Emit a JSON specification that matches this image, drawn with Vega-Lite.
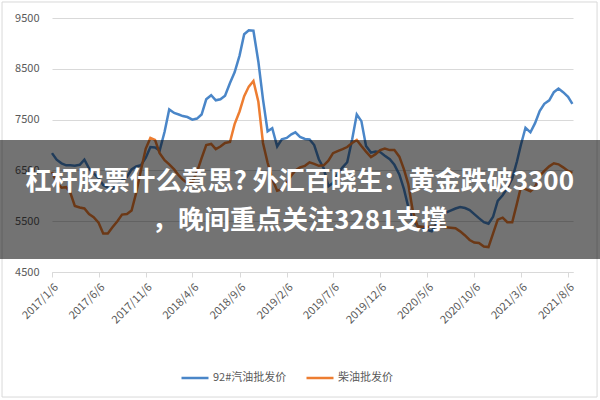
{
  "$schema": "https://vega.github.io/schema/vega-lite/v6.json",
  "width": 521,
  "height": 254,
  "autosize": "none",
  "padding": {"left": 52, "top": 18, "right": 27, "bottom": 128},
  "background": "white",
  "config": {"view": {"stroke": null}, "font": "Noto Sans CJK SC"},
  "datasets": {
    "prices": [
      {"date": "2017/01/06", "92#汽油批发价": 6840, "柴油批发价": 6470},
      {"date": "2017/01/21", "92#汽油批发价": 6710, "柴油批发价": 6260},
      {"date": "2017/02/06", "92#汽油批发价": 6640, "柴油批发价": 6160},
      {"date": "2017/02/21", "92#汽油批发价": 6600, "柴油批发价": 6170},
      {"date": "2017/03/06", "92#汽油批发价": 6600, "柴油批发价": 6070},
      {"date": "2017/03/21", "92#汽油批发价": 6590, "柴油批发价": 5800},
      {"date": "2017/04/06", "92#汽油批发价": 6610, "柴油批发价": 5770},
      {"date": "2017/04/21", "92#汽油批发价": 6710, "柴油批发价": 5750},
      {"date": "2017/05/06", "92#汽油批发价": 6540, "柴油批发价": 5640},
      {"date": "2017/05/21", "92#汽油批发价": 6440, "柴油批发价": 5580},
      {"date": "2017/06/06", "92#汽油批发价": 6350, "柴油批发价": 5470},
      {"date": "2017/06/21", "92#汽油批发价": 6210, "柴油批发价": 5260},
      {"date": "2017/07/06", "92#汽油批发价": 6160, "柴油批发价": 5260},
      {"date": "2017/07/21", "92#汽油批发价": 6140, "柴油批发价": 5380},
      {"date": "2017/08/06", "92#汽油批发价": 6220, "柴油批发价": 5500},
      {"date": "2017/08/21", "92#汽油批发价": 6300, "柴油批发价": 5630},
      {"date": "2017/09/06", "92#汽油批发价": 6370, "柴油批发价": 5640},
      {"date": "2017/09/21", "92#汽油批发价": 6520, "柴油批发价": 5710},
      {"date": "2017/10/06", "92#汽油批发价": 6580, "柴油批发价": 6060},
      {"date": "2017/10/21", "92#汽油批发价": 6600, "柴油批发价": 6500},
      {"date": "2017/11/06", "92#汽油批发价": 6750, "柴油批发价": 6930},
      {"date": "2017/11/21", "92#汽油批发价": 6960, "柴油批发价": 7140},
      {"date": "2017/12/06", "92#汽油批发价": 6950, "柴油批发价": 7100},
      {"date": "2017/12/21", "92#汽油批发价": 6890, "柴油批发价": 6840},
      {"date": "2018/01/06", "92#汽油批发价": 7260, "柴油批发价": 6700},
      {"date": "2018/01/21", "92#汽油批发价": 7700, "柴油批发价": 6620},
      {"date": "2018/02/06", "92#汽油批发价": 7630, "柴油批发价": 6520},
      {"date": "2018/02/21", "92#汽油批发价": 7600, "柴油批发价": 6400},
      {"date": "2018/03/06", "92#汽油批发价": 7570, "柴油批发价": 6320},
      {"date": "2018/03/21", "92#汽油批发价": 7550, "柴油批发价": 6250},
      {"date": "2018/04/06", "92#汽油批发价": 7500, "柴油批发价": 6270},
      {"date": "2018/04/21", "92#汽油批发价": 7520, "柴油批发价": 6470},
      {"date": "2018/05/06", "92#汽油批发价": 7600, "柴油批发价": 6740},
      {"date": "2018/05/21", "92#汽油批发价": 7900, "柴油批发价": 7000},
      {"date": "2018/06/06", "92#汽油批发价": 7980, "柴油批发价": 7020},
      {"date": "2018/06/21", "92#汽油批发价": 7880, "柴油批发价": 6920},
      {"date": "2018/07/06", "92#汽油批发价": 7900, "柴油批发价": 6970},
      {"date": "2018/07/21", "92#汽油批发价": 7970, "柴油批发价": 7040},
      {"date": "2018/08/06", "92#汽油批发价": 8220, "柴油批发价": 7060},
      {"date": "2018/08/21", "92#汽油批发价": 8430, "柴油批发价": 7410},
      {"date": "2018/09/06", "92#汽油批发价": 8760, "柴油批发价": 7660},
      {"date": "2018/09/21", "92#汽油批发价": 9180, "柴油批发价": 7960},
      {"date": "2018/10/06", "92#汽油批发价": 9260, "柴油批发价": 8150},
      {"date": "2018/10/21", "92#汽油批发价": 9250, "柴油批发价": 8260},
      {"date": "2018/11/06", "92#汽油批发价": 8640, "柴油批发价": 7850},
      {"date": "2018/11/21", "92#汽油批发价": 7900, "柴油批发价": 7040},
      {"date": "2018/12/06", "92#汽油批发价": 7270, "柴油批发价": 6650},
      {"date": "2018/12/21", "92#汽油批发价": 7330, "柴油批发价": 6330},
      {"date": "2019/01/06", "92#汽油批发价": 6970, "柴油批发价": 6100},
      {"date": "2019/01/21", "92#汽油批发价": 7110, "柴油批发价": 6130},
      {"date": "2019/02/06", "92#汽油批发价": 7140, "柴油批发价": 6260},
      {"date": "2019/02/21", "92#汽油批发价": 7210, "柴油批发价": 6400},
      {"date": "2019/03/06", "92#汽油批发价": 7250, "柴油批发价": 6500},
      {"date": "2019/03/21", "92#汽油批发价": 7160, "柴油批发价": 6560},
      {"date": "2019/04/06", "92#汽油批发价": 7120, "柴油批发价": 6590},
      {"date": "2019/04/21", "92#汽油批发价": 7110, "柴油批发价": 6660},
      {"date": "2019/05/06", "92#汽油批发价": 7000, "柴油批发价": 6630},
      {"date": "2019/05/21", "92#汽油批发价": 6720, "柴油批发价": 6590},
      {"date": "2019/06/06", "92#汽油批发价": 6540, "柴油批发价": 6600},
      {"date": "2019/06/21", "92#汽油批发价": 6190, "柴油批发价": 6690},
      {"date": "2019/07/06", "92#汽油批发价": 6250, "柴油批发价": 6840},
      {"date": "2019/07/21", "92#汽油批发价": 6430, "柴油批发价": 6880},
      {"date": "2019/08/06", "92#汽油批发价": 6560, "柴油批发价": 6920},
      {"date": "2019/08/21", "92#汽油批发价": 6660, "柴油批发价": 6960},
      {"date": "2019/09/06", "92#汽油批发价": 7110, "柴油批发价": 7040},
      {"date": "2019/09/21", "92#汽油批发价": 7600, "柴油批发价": 7100},
      {"date": "2019/10/06", "92#汽油批发价": 7470, "柴油批发价": 6980},
      {"date": "2019/10/21", "92#汽油批发价": 6980, "柴油批发价": 6870},
      {"date": "2019/11/06", "92#汽油批发价": 6850, "柴油批发价": 6760},
      {"date": "2019/11/21", "92#汽油批发价": 6870, "柴油批发价": 6820},
      {"date": "2019/12/06", "92#汽油批发价": 6860, "柴油批发价": 6900},
      {"date": "2019/12/21", "92#汽油批发价": 6790, "柴油批发价": 6930},
      {"date": "2020/01/06", "92#汽油批发价": 6720, "柴油批发价": 6900},
      {"date": "2020/01/21", "92#汽油批发价": 6610, "柴油批发价": 6900},
      {"date": "2020/02/06", "92#汽油批发价": 6420, "柴油批发价": 6770},
      {"date": "2020/02/21", "92#汽油批发价": 6130, "柴油批发价": 6520},
      {"date": "2020/03/06", "92#汽油批发价": 5780, "柴油批发价": 6230},
      {"date": "2020/03/21", "92#汽油批发价": 5510, "柴油批发价": 5690},
      {"date": "2020/04/06", "92#汽油批发价": 5400, "柴油批发价": 5390},
      {"date": "2020/04/21", "92#汽油批发价": 5380, "柴油批发价": 5390},
      {"date": "2020/05/06", "92#汽油批发价": 5330, "柴油批发价": 5390},
      {"date": "2020/05/21", "92#汽油批发价": 5300, "柴油批发价": 5390},
      {"date": "2020/06/06", "92#汽油批发价": 5460, "柴油批发价": 5390},
      {"date": "2020/06/21", "92#汽油批发价": 5600, "柴油批发价": 5390},
      {"date": "2020/07/06", "92#汽油批发价": 5670, "柴油批发价": 5380},
      {"date": "2020/07/21", "92#汽油批发价": 5710, "柴油批发价": 5370},
      {"date": "2020/08/06", "92#汽油批发价": 5750, "柴油批发价": 5360},
      {"date": "2020/08/21", "92#汽油批发价": 5780, "柴油批发价": 5300},
      {"date": "2020/09/06", "92#汽油批发价": 5760, "柴油批发价": 5220},
      {"date": "2020/09/21", "92#汽油批发价": 5720, "柴油批发价": 5130},
      {"date": "2020/10/06", "92#汽油批发价": 5640, "柴油批发价": 5080},
      {"date": "2020/10/21", "92#汽油批发价": 5560, "柴油批发价": 5070},
      {"date": "2020/11/06", "92#汽油批发价": 5480, "柴油批发价": 5000},
      {"date": "2020/11/21", "92#汽油批发价": 5450, "柴油批发价": 4990},
      {"date": "2020/12/06", "92#汽油批发价": 5590, "柴油批发价": 5260},
      {"date": "2020/12/21", "92#汽油批发价": 5900, "柴油批发价": 5530},
      {"date": "2021/01/06", "92#汽油批发价": 6010, "柴油批发价": 5570},
      {"date": "2021/01/21", "92#汽油批发价": 6150, "柴油批发价": 5480},
      {"date": "2021/02/06", "92#汽油批发价": 6340, "柴油批发价": 5480},
      {"date": "2021/02/21", "92#汽油批发价": 6670, "柴油批发价": 5840},
      {"date": "2021/03/06", "92#汽油批发价": 7000, "柴油批发价": 6170},
      {"date": "2021/03/21", "92#汽油批发价": 7340, "柴油批发价": 6130},
      {"date": "2021/04/06", "92#汽油批发价": 7250, "柴油批发价": 6090},
      {"date": "2021/04/21", "92#汽油批发价": 7430, "柴油批发价": 6170},
      {"date": "2021/05/06", "92#汽油批发价": 7670, "柴油批发价": 6390},
      {"date": "2021/05/21", "92#汽油批发价": 7810, "柴油批发价": 6490},
      {"date": "2021/06/06", "92#汽油批发价": 7880, "柴油批发价": 6580},
      {"date": "2021/06/21", "92#汽油批发价": 8040, "柴油批发价": 6640},
      {"date": "2021/07/06", "92#汽油批发价": 8110, "柴油批发价": 6620},
      {"date": "2021/07/21", "92#汽油批发价": 8040, "柴油批发价": 6560},
      {"date": "2021/08/06", "92#汽油批发价": 7950, "柴油批发价": 6490},
      {"date": "2021/08/20", "92#汽油批发价": 7810, "柴油批发价": 6450}
    ]
  },
  "layer": [
    {
      "data": {"values": [{}]},
      "mark": {"type": "rect", "clip": false, "fill": null, "fillOpacity": 0, "stroke": "#d9d9d9", "strokeWidth": 1},
      "encoding": {
        "x": {"datum": {"year": 2016, "month": 7, "date": 28}, "type": "temporal"},
        "x2": {"datum": {"year": 2021, "month": 11, "date": 8}},
        "y": {"datum": 9815, "type": "quantitative"},
        "y2": {"datum": 2039}
      }
    },
    {
      "data": {"name": "prices"},
      "transform": [{"fold": ["92#汽油批发价", "柴油批发价"], "as": ["series", "value"]}],
      "mark": {"type": "line", "strokeWidth": 2.5},
      "encoding": {
        "x": {
          "field": "date",
          "type": "temporal",
          "scale": {"domain": [{"year": 2017, "month": 1, "date": 6}, {"year": 2021, "month": 8, "date": 22}]},
          "axis": {
            "title": null,
            "values": [
              {"year": 2017, "month": 1, "date": 6},
              {"year": 2017, "month": 6, "date": 6},
              {"year": 2017, "month": 11, "date": 6},
              {"year": 2018, "month": 4, "date": 6},
              {"year": 2018, "month": 9, "date": 6},
              {"year": 2019, "month": 2, "date": 6},
              {"year": 2019, "month": 7, "date": 6},
              {"year": 2019, "month": 12, "date": 6},
              {"year": 2020, "month": 5, "date": 6},
              {"year": 2020, "month": 10, "date": 6},
              {"year": 2021, "month": 3, "date": 6},
              {"year": 2021, "month": 8, "date": 6}
            ],
            "format": "%Y/%-m/%-d",
            "labelAngle": -45,
            "grid": false,
            "domainColor": "#d9d9d9",
            "tickColor": "#d9d9d9",
            "tickSize": 5,
            "labelColor": "#595959",
            "labelFontSize": 11,
            "labelFlush": false,
            "labelOverlap": false,
            "labelPadding": 4
          }
        },
        "y": {
          "field": "value",
          "type": "quantitative",
          "scale": {"domain": [4500, 9500], "nice": false, "zero": false},
          "axis": {
            "title": null,
            "values": [4500, 5500, 6500, 7500, 8500, 9500],
            "format": "d",
            "grid": true,
            "gridColor": "#d9d9d9",
            "domain": false,
            "ticks": false,
            "labelPadding": 13,
            "labelColor": "#595959",
            "labelFontSize": 11
          }
        },
        "color": {
          "field": "series",
          "type": "nominal",
          "scale": {"domain": ["92#汽油批发价", "柴油批发价"], "range": ["#4a86c8", "#ed7d31"]},
          "legend": {
            "title": null,
            "orient": "none",
            "legendX": 128,
            "legendY": 345,
            "direction": "horizontal",
            "symbolType": "stroke",
            "symbolSize": 729,
            "symbolStrokeWidth": 2.5,
            "labelFontSize": 11,
            "labelColor": "#595959",
            "labelOffset": 3,
            "columnPadding": 14
          }
        }
      }
    },
    {
      "data": {"values": [{}]},
      "mark": {"type": "rect", "clip": false, "fill": "#000000", "opacity": 0.55},
      "encoding": {
        "x": {"datum": {"year": 2016, "month": 7, "date": 1}, "type": "temporal"},
        "x2": {"datum": {"year": 2021, "month": 12, "date": 15}},
        "y": {"datum": 4756, "type": "quantitative"},
        "y2": {"datum": 7098}
      }
    },
    {
      "data": {"values": [{}]},
      "mark": {"type": "text", "clip": false, "color": "white", "fontSize": 26, "fontWeight": "bold", "font": "Noto Sans CJK SC", "align": "center", "baseline": "middle"},
      "encoding": {
        "x": {"datum": {"year": 2019, "month": 3, "date": 20}, "type": "temporal"},
        "y": {"datum": 6272, "type": "quantitative"},
        "text": {"value": "杠杆股票什么意思? 外汇百晓生：黄金跌破3300"}
      }
    },
    {
      "data": {"values": [{}]},
      "mark": {"type": "text", "clip": false, "color": "white", "fontSize": 26, "fontWeight": "bold", "font": "Noto Sans CJK SC", "align": "center", "baseline": "middle"},
      "encoding": {
        "x": {"datum": {"year": 2019, "month": 3, "date": 20}, "type": "temporal"},
        "y": {"datum": 5504, "type": "quantitative"},
        "text": {"value": "，晚间重点关注3281支撑"}
      }
    }
  ]
}
